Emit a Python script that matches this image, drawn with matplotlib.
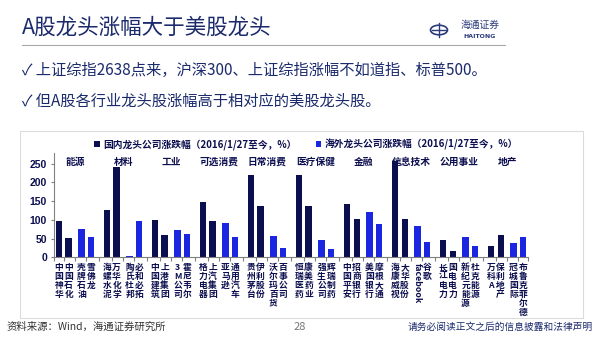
import matplotlib
matplotlib.use("Agg")
import matplotlib.pyplot as plt
from matplotlib.patches import Rectangle, Circle
import numpy as np

plt.rcParams['font.family'] = ['Noto Sans CJK SC', 'DejaVu Sans']

# data
sectors = ["能源", "材料", "工业", "可选消费", "日常消费", "医疗保健", "金融", "信息技术", "公用事业", "地产"]
cn_names = [["中国神华", "中国石化"], ["海螺水泥", "万华化学"], ["中国建筑", "上港集团"],
            ["格力电器", "上汽集团"], ["贵州茅台", "伊利股份"], ["恒瑞医药", "康美药业"],
            ["中国平安", "招商银行"], ["海康威视", "大华股份"], ["长江电力", "国电电力"],
            ["万科A", "保利地产"]]
us_names = [["壳牌石油", "雪佛龙"], ["陶氏杜邦", "必和必拓"], ["3M公司", "霍尼韦尔"],
            ["亚马逊", "通用汽车"], ["沃尔玛百货", "百事公司"], ["强生公司", "辉瑞制药"],
            ["美国银行", "摩根大通"], ["facebook", "谷歌"], ["新纪元能源", "杜克能源"],
            ["冠城国际", "布鲁克菲尔德"]]
cn_vals = [[98, 51], [127, 241], [100, 59], [147, 96], [220, 136],
           [220, 136], [142, 103], [256, 102], [46, 17], [29, 59]]
us_vals = [[75, 53], [4, 97], [72, 61], [91, 53], [57, 26],
           [45, 22], [121, 90], [83, 40], [54, 29], [38, 54]]

NAVY = "#0c0f4f"
BLUE = "#1a26e0"
TXT = "#1a2a6c"

W, H = 600, 338
fig = plt.figure(figsize=(6, 3.38), dpi=100)


def fx(x):
    return x / W


def fy(y):
    return 1 - y / H


# title, rule and logo
fig.text(fx(22), fy(28), "A股龙头涨幅大于美股龙头", fontsize=15.5, color=TXT, va="center", ha="left")
fig.add_artist(plt.Line2D([fx(22), fx(505)], [fy(45), fy(45)], color="#a8a8a8", lw=0.8))
fig.add_artist(Circle((fx(439), fy(30)), 8.5 / W, transform=fig.transFigure,
                      fill=False, ec="#2a3a7a", lw=1.2))
fig.add_artist(plt.Line2D([fx(432), fx(446)], [fy(30), fy(30)], color="#2a3a7a", lw=1))
fig.add_artist(plt.Line2D([fx(439), fx(439)], [fy(23), fy(37)], color="#2a3a7a", lw=1))
fig.text(fx(480), fy(25), "海通证券", fontsize=7, color="#2a3a7a", ha="center", va="center")
fig.text(fx(480), fy(36), "HAITONG", fontsize=4.5, color="#2a3a7a", ha="center", va="center",
         fontweight="bold", family=["DejaVu Sans"])

# bullets
fig.text(fx(22), fy(70), "✓ 上证综指2638点来，沪深300、上证综指涨幅不如道指、标普500。",
         fontsize=11, color=TXT, va="center", ha="left")
fig.text(fx(22), fy(101), "✓ 但A股各行业龙头股涨幅高于相对应的美股龙头股。",
         fontsize=11, color=TXT, va="center", ha="left")

# chart frame
fig.add_artist(Rectangle((fx(20), fy(318)), (583 - 20) / W, (318 - 131) / H,
                         transform=fig.transFigure, fill=False, ec="#dcdcdc", lw=0.8))

ax = fig.add_axes([fx(54), fy(257.3), (528 - 54) / W, (257.3 - 152.5) / H])

cn_x = np.array([[g * 5, g * 5 + 1] for g in range(len(sectors))])
us_x = np.array([[g * 5 + 2.35, g * 5 + 3.35] for g in range(len(sectors))])
bw = 0.65

ax.bar(cn_x.ravel(), np.ravel(cn_vals), width=bw, color=NAVY, label="国内龙头公司涨跌幅（2016/1/27至今，%）")
ax.bar(us_x.ravel(), np.ravel(us_vals), width=bw, color=BLUE, label="海外龙头公司涨跌幅（2016/1/27至今，%）")

ax.set_ylim(0, 280)
ax.set_xlim(-0.52, 48.85)
ax.set_yticks(range(0, 251, 50))
for lab in ax.get_yticklabels():
    lab.set_fontfamily("Liberation Sans")
    lab.set_fontweight("bold")
    lab.set_fontsize(7.5)
    lab.set_color(NAVY)
ax.tick_params(axis="y", length=2, pad=3, color="#808080")

all_x = np.sort(np.concatenate([cn_x.ravel(), us_x.ravel()]))
mids = (all_x[:-1] + all_x[1:]) / 2
ax.set_xticks(np.concatenate([[all_x[0] - 0.5], mids, [all_x[-1] + 0.5]]))
ax.set_xticklabels([])
ax.tick_params(axis="x", length=3, color="#808080")

for s in ["top", "right"]:
    ax.spines[s].set_visible(False)
for s in ["left", "bottom"]:
    ax.spines[s].set_color("#808080")
    ax.spines[s].set_linewidth(0.8)

# company names, vertical
names = [n for pair in zip(cn_names, us_names) for grp in pair for n in grp]
xs = [x for pair in zip(cn_x, us_x) for grp in pair for x in grp]
for name, x in zip(names, xs):
    if name == "facebook":
        ax.annotate(name, (x, 0), xycoords=("data", "axes fraction"), xytext=(0, -4),
                    textcoords="offset points", ha="center", va="top", rotation=-90,
                    fontsize=6.3, fontweight="bold", color=NAVY)
    else:
        ax.annotate("\n".join(name), (x, 0), xycoords=("data", "axes fraction"), xytext=(0, -4),
                    textcoords="offset points", ha="center", va="top", linespacing=1.0,
                    fontsize=6.3, fontweight="bold", color=NAVY)

# sector labels
for g, s in enumerate(sectors):
    ax.text(g * 5 + 1.7, 255, s, ha="center", va="center", fontsize=7, fontweight="bold", color=NAVY)

leg = ax.legend(loc="lower left", bbox_to_anchor=(fx(94), fy(150)), bbox_transform=fig.transFigure,
                ncol=2, frameon=False, fontsize=7, handlelength=0.6, handleheight=0.6,
                handletextpad=0.3, columnspacing=2.0, borderaxespad=0, borderpad=0)
for t in leg.get_texts():
    t.set_color(NAVY)
    t.set_fontweight("bold")

# footer
fig.text(fx(7), fy(327), "资料来源：Wind，海通证券研究所", fontsize=7.5, color="#333333", va="center", ha="left")
fig.text(fx(300), fy(327), "28", fontsize=8, color="#777777", va="center", ha="center")
fig.text(fx(593), fy(327), "请务必阅读正文之后的信息披露和法律声明", fontsize=7, color=TXT, va="center", ha="right")

fig.savefig("out.png", dpi=100)
